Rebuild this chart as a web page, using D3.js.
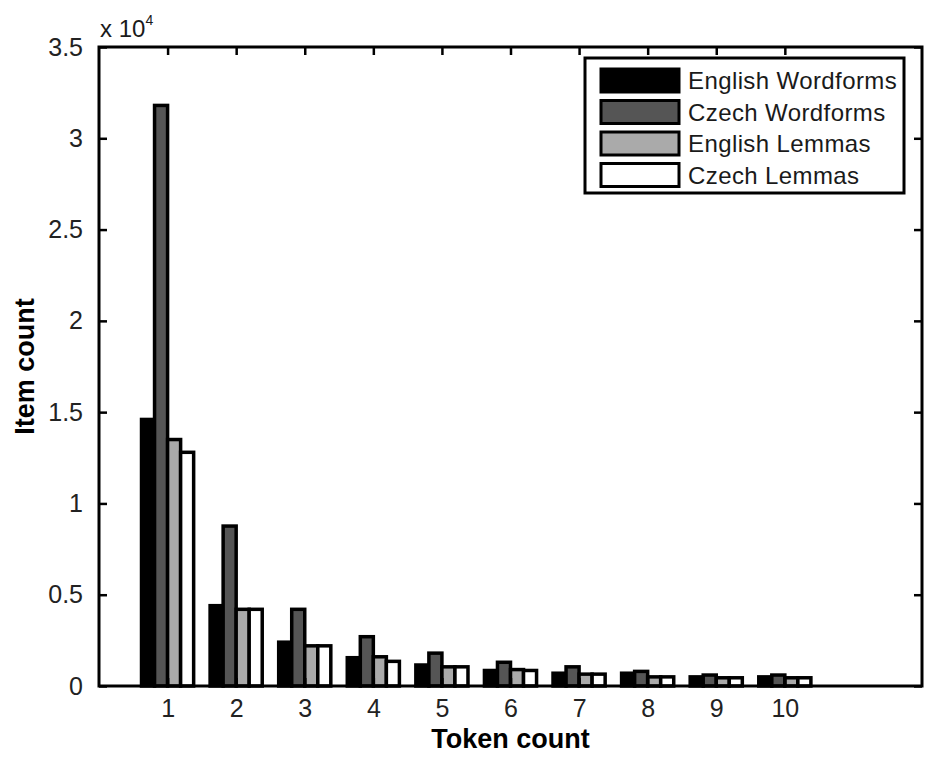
<!DOCTYPE html>
<html>
<head>
<meta charset="utf-8">
<script src="https://cdn.jsdelivr.net/npm/d3@7"></script>
<style>
  body { margin: 0; background: #fff; }
  text { font-family: "Liberation Sans", Arial, sans-serif; fill: #1a1a1a; }
</style>
</head>
<body>
<script>
// token counts 1..10, item counts in units of 1e4
var tokens = [1, 2, 3, 4, 5, 6, 7, 8, 9, 10];
var seriesNames = ["English Wordforms", "Czech Wordforms", "English Lemmas", "Czech Lemmas"];
var englishWordforms = [1.46, 0.44, 0.24, 0.155, 0.115, 0.085, 0.07, 0.07, 0.05, 0.05];
var czechWordforms   = [3.18, 0.876, 0.42, 0.27, 0.18, 0.13, 0.105, 0.08, 0.06, 0.06];
var englishLemmas    = [1.35, 0.42, 0.22, 0.16, 0.105, 0.09, 0.065, 0.05, 0.045, 0.045];
var czechLemmas      = [1.28, 0.42, 0.22, 0.135, 0.105, 0.085, 0.065, 0.05, 0.045, 0.045];
var yTicks = [0, 0.5, 1, 1.5, 2, 2.5, 3, 3.5];
var fills = ["#000000", "#555555", "#aaaaaa", "#ffffff"];

var values = [englishWordforms, czechWordforms, englishLemmas, czechLemmas];

var width = 936, height = 757;
// plot box edges (note: "top" is reserved on window, so use m* names)
var mLeft = 99, mRight = 922, mTop = 47, mBottom = 686;

var svg = d3.select("body").append("svg")
    .attr("width", width)
    .attr("height", height);

var x = d3.scaleLinear().domain([0, 12]).range([mLeft, mRight]);
var y = d3.scaleLinear().domain([0, 3.5]).range([mBottom, mTop]);
var inner = d3.scaleBand().domain(d3.range(seriesNames.length)).range([-0.38, 0.38]);

// bars
var groups = svg.selectAll("g.grp")
    .data(tokens)
  .enter().append("g")
    .attr("class", "grp");

groups.selectAll("rect")
    .data((t, gi) => values.map((s, si) => ({t: t, si: si, v: s[gi]})))
  .enter().append("rect")
    .attr("x", d => x(d.t + inner(d.si)))
    .attr("width", d => x(d.t + inner(d.si) + inner.bandwidth()) - x(d.t + inner(d.si)))
    .attr("y", d => y(d.v))
    .attr("height", d => y(0) - y(d.v))
    .style("fill", d => fills[d.si])
    .style("stroke", "#000")
    .style("stroke-width", 3.5);

// axes, ticks pointing inward
function styleAxis(g) {
  g.select(".domain").remove();
  g.selectAll(".tick line").attr("stroke", "#000").attr("stroke-width", 2.5);
  g.selectAll(".tick text").style("font-size", "25px").style("fill", "#222")
    .style("font-family", "Liberation Sans, Arial, sans-serif");
}

svg.append("g")
    .attr("transform", "translate(0," + mBottom + ")")
    .call(d3.axisBottom(x).tickValues(tokens).tickSizeInner(-8).tickPadding(13).tickFormat(d3.format("d")))
    .call(styleAxis);

svg.append("g")
    .attr("transform", "translate(0," + mTop + ")")
    .call(d3.axisTop(x).tickValues(tokens).tickSizeInner(-8).tickFormat(""))
    .call(styleAxis);

svg.append("g")
    .attr("transform", "translate(" + mLeft + ",0)")
    .call(d3.axisLeft(y).tickValues(yTicks).tickSizeInner(-8).tickPadding(16).tickFormat(d3.format("")))
    .call(styleAxis);

svg.append("g")
    .attr("transform", "translate(" + mRight + ",0)")
    .call(d3.axisRight(y).tickValues(yTicks).tickSizeInner(-8).tickFormat(""))
    .call(styleAxis);

svg.append("rect")
    .attr("x", mLeft).attr("y", mTop)
    .attr("width", mRight - mLeft).attr("height", mBottom - mTop)
    .style("fill", "none").style("stroke", "#000").style("stroke-width", 3);

// exponent label
var expo = svg.append("text")
    .attr("x", mLeft + 1).attr("y", 37)
    .style("font-size", "24px");
expo.append("tspan").text("x 10");
expo.append("tspan").attr("dy", -12).style("font-size", "14px").text("4");

// axis titles
svg.append("text")
    .attr("x", (mLeft + mRight) / 2).attr("y", 748)
    .attr("text-anchor", "middle")
    .style("font-size", "27px").style("font-weight", "bold").style("fill", "#000")
    .text("Token count");

svg.append("text")
    .attr("transform", "translate(34," + (mTop + mBottom) / 2 + ") rotate(-90)")
    .attr("text-anchor", "middle")
    .style("font-size", "27px").style("font-weight", "bold").style("fill", "#000")
    .text("Item count");

// legend
var legend = svg.append("g").attr("transform", "translate(585,58)");
legend.append("rect")
    .attr("width", 319).attr("height", 135)
    .style("fill", "#fff").style("stroke", "#000").style("stroke-width", 3);

var rows = legend.selectAll("g.row")
    .data(seriesNames)
  .enter().append("g")
    .attr("transform", (d, i) => "translate(0," + (22 + i * 31.5) + ")");

rows.append("rect")
    .attr("x", 16).attr("y", -11)
    .attr("width", 78).attr("height", 23)
    .style("fill", (d, i) => fills[i])
    .style("stroke", "#000").style("stroke-width", 3);

rows.append("text")
    .attr("x", 103).attr("y", 9)
    .style("font-size", "24px")
    .style("letter-spacing", "0.4px")
    .text(d => d);
</script>
</body>
</html>
